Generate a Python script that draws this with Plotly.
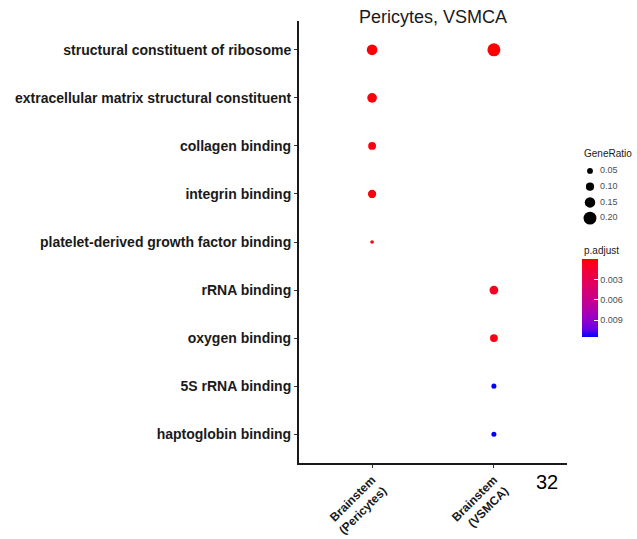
import numpy as np
import plotly.graph_objects as go

# ---------------- data ----------------
terms = [
    "structural constituent of ribosome",
    "extracellular matrix structural constituent",
    "collagen binding",
    "integrin binding",
    "platelet-derived growth factor binding",
    "rRNA binding",
    "oxygen binding",
    "5S rRNA binding",
    "haptoglobin binding",
]
groups = ["Brainstem<br>(Pericytes)", "Brainstem<br>(VSMCA)"]

pt_group = [0, 1, 0, 0, 0, 0, 1, 1, 1, 1]
pt_term = [0, 0, 1, 2, 3, 4, 5, 6, 7, 8]
gene_ratio = [0.17, 0.22, 0.15, 0.11, 0.12, 0.02, 0.13, 0.11, 0.05, 0.05]
p_adjust = [0.0002, 0.0001, 0.0003, 0.0004, 0.0004, 0.0005, 0.0009, 0.0006, 0.0115, 0.0115]

legend_ratios = [0.05, 0.10, 0.15, 0.20]
legend_labels = ["0.05", "0.10", "0.15", "0.20"]
cbar_ticks = [0.003, 0.006, 0.009]
p_min, p_max = 0.0, 0.0115


# ---------------- helpers (styling) ----------------
def size_of(r):
    return 2.7 + 46.7 * r


def srgb_to_lab(rgb):
    c = np.array(rgb, dtype=float) / 255
    c = np.where(c > 0.04045, ((c + 0.055) / 1.055) ** 2.4, c / 12.92)
    M = np.array([[0.4124, 0.3576, 0.1805], [0.2126, 0.7152, 0.0722], [0.0193, 0.1192, 0.9505]])
    xyz = M @ c / np.array([0.95047, 1.0, 1.08883])
    f = np.where(xyz > 0.008856, np.cbrt(xyz), 7.787 * xyz + 16 / 116)
    return np.array([116 * f[1] - 16, 500 * (f[0] - f[1]), 200 * (f[1] - f[2])])


def lab_to_srgb(lab):
    L_, a, b = lab
    fy = (L_ + 16) / 116
    fx = fy + a / 500
    fz = fy - b / 200
    f = np.array([fx, fy, fz])
    xyz = np.where(f ** 3 > 0.008856, f ** 3, (f - 16 / 116) / 7.787) * np.array([0.95047, 1.0, 1.08883])
    Mi = np.array([[3.2406, -1.5372, -0.4986], [-0.9689, 1.8758, 0.0415], [0.0557, -0.2040, 1.0570]])
    c = Mi @ xyz
    c = np.where(c > 0.0031308, 1.055 * np.clip(c, 0, None) ** (1 / 2.4) - 0.055, 12.92 * c)
    c = np.clip(c, 0, 1) * 255
    return "rgb(%d,%d,%d)" % tuple(np.round(c).astype(int))


lab_red = srgb_to_lab([255, 0, 0])
lab_blue = srgb_to_lab([0, 0, 255])
# colour value is -p so that red (low p) sits on top of the colour bar
colorscale = []
for t in np.linspace(0, 1, 11):
    colorscale.append([t, lab_to_srgb(lab_blue + (lab_red - lab_blue) * t)])

W, H = 637, 539
L, R, T, B = 299, 0, 21, 76
PW, PH = W - L - R, H - T - B
PLOT_RIGHT = 567


def px(xp):
    return (xp - L) / PW


def py(yp):
    return (H - B - yp) / PH


FONT = "Liberation Sans, Arial, Helvetica"

fig = go.Figure()

fig.add_trace(go.Scatter(
    x=pt_group,
    y=pt_term,
    mode="markers",
    showlegend=False,
    hoverinfo="skip",
    marker=dict(
        size=[size_of(r) for r in gene_ratio],
        sizemode="diameter",
        color=[-p for p in p_adjust],
        cmin=-p_max,
        cmax=-p_min,
        colorscale=colorscale,
        line=dict(width=0),
        opacity=1,
        colorbar=dict(
            thickness=16,
            len=78,
            lenmode="pixels",
            x=px(582),
            xanchor="left",
            y=py(259),
            yanchor="top",
            outlinewidth=0,
            tickvals=[-v for v in cbar_ticks],
            ticktext=[str(v) for v in cbar_ticks],
            ticks="inside",
            ticklen=4,
            tickcolor="white",
            tickwidth=1,
            tickfont=dict(family=FONT, size=9, color="#4d4d4d"),
            ypad=0,
            xpad=0,
        ),
    ),
))

# size legend drawn on its own small axes
fig.add_trace(go.Scatter(
    x=[0] * len(legend_ratios),
    y=list(range(len(legend_ratios))),
    mode="markers",
    xaxis="x2", yaxis="y2",
    showlegend=False, hoverinfo="skip",
    marker=dict(size=[size_of(r) + 0.8 for r in legend_ratios], color="#000000",
                opacity=1, line=dict(width=0)),
))
fig.add_trace(go.Scatter(
    x=[1] * len(legend_ratios),
    y=list(range(len(legend_ratios))),
    mode="text",
    text=legend_labels,
    textposition="middle right",
    textfont=dict(family=FONT, size=9, color="#4d4d4d"),
    xaxis="x2", yaxis="y2",
    showlegend=False, hoverinfo="skip",
))

fig.update_layout(
    width=W, height=H,
    margin=dict(l=L, r=R, t=T, b=B, autoexpand=False),
    paper_bgcolor="white",
    plot_bgcolor="white",
    font=dict(family=FONT, color="black"),
    showlegend=False,
    title=dict(
        text="Pericytes, VSMCA",
        x=(L + PLOT_RIGHT) / 2 / W, xanchor="center", xref="container",
        y=1 - 17 / H, yanchor="middle", yref="container",
        font=dict(size=18, color="#1a1a1a"),
    ),
    xaxis=dict(
        domain=[0, px(PLOT_RIGHT)],
        range=[-0.6, 1.6],
        tickvals=[0, 1],
        ticktext=groups,
        tickangle=-45,
        tickfont=dict(size=12, color="#1a1a1a", family=FONT, weight="bold"),
        ticklabelstandoff=0,
        showgrid=False, zeroline=False,
        showline=True, linecolor="#1a1a1a", linewidth=2,
        ticks="outside", ticklen=3, tickcolor="#333333", tickwidth=1,
    ),
    yaxis=dict(
        range=[8.6, -0.6],
        tickvals=list(range(len(terms))),
        ticktext=terms,
        tickfont=dict(size=14, color="#1a1a1a", family=FONT, weight="bold"),
        showgrid=False, zeroline=False,
        showline=True, linecolor="#1a1a1a", linewidth=2,
        ticks="outside", ticklen=3, tickcolor="#333333", tickwidth=1,
    ),
    xaxis2=dict(
        domain=[px(580), px(620)], range=[-1, 3],
        visible=False, fixedrange=True, anchor="y2",
    ),
    yaxis2=dict(
        domain=[py(226), py(163)], range=[3.5, -0.5],
        visible=False, fixedrange=True, anchor="x2",
    ),
    annotations=[
        dict(text="GeneRatio", x=px(582), y=py(153), xref="paper", yref="paper",
             xanchor="left", yanchor="middle", showarrow=False,
             font=dict(size=10, color="#1a1a1a")),
        dict(text="p.adjust", x=px(582), y=py(251), xref="paper", yref="paper",
             xanchor="left", yanchor="middle", showarrow=False,
             font=dict(size=10, color="#1a1a1a")),
        dict(text="32", x=px(547), y=py(482), xref="paper", yref="paper",
             xanchor="center", yanchor="middle", showarrow=False,
             font=dict(size=20, color="black")),
    ],
)

fig.write_html("out.html")
